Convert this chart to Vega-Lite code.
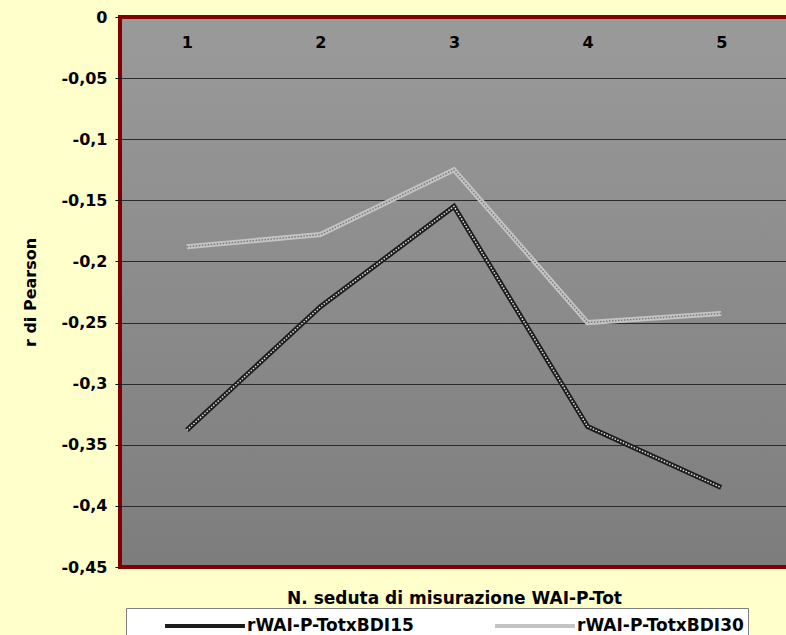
{
  "$schema": "https://vega.github.io/schema/vega-lite/v6.json",
  "width": 668,
  "height": 550,
  "autosize": "none",
  "padding": {"left": 120, "top": 17, "right": 0, "bottom": 68},
  "background": "#FFFFCC",
  "config": {
    "font": "DejaVu Sans",
    "view": {
      "stroke": "#800000",
      "strokeWidth": 4,
      "fill": {"gradient": "linear", "x1": 0, "y1": 0, "x2": 0, "y2": 1, "stops": [{"offset": 0, "color": "#9a9a9a"}, {"offset": 1, "color": "#7d7d7d"}]}
    }
  },
  "data": {
    "values": [
      {"seduta": "1", "series": "rWAI-P-TotxBDI15", "r": -0.338},
      {"seduta": "2", "series": "rWAI-P-TotxBDI15", "r": -0.237},
      {"seduta": "3", "series": "rWAI-P-TotxBDI15", "r": -0.155},
      {"seduta": "4", "series": "rWAI-P-TotxBDI15", "r": -0.335},
      {"seduta": "5", "series": "rWAI-P-TotxBDI15", "r": -0.385},
      {"seduta": "1", "series": "rWAI-P-TotxBDI30", "r": -0.188},
      {"seduta": "2", "series": "rWAI-P-TotxBDI30", "r": -0.178},
      {"seduta": "3", "series": "rWAI-P-TotxBDI30", "r": -0.125},
      {"seduta": "4", "series": "rWAI-P-TotxBDI30", "r": -0.250},
      {"seduta": "5", "series": "rWAI-P-TotxBDI30", "r": -0.2425}
    ]
  },
  "encoding": {
    "x": {
      "field": "seduta",
      "type": "ordinal",
      "axis": {
        "orient": "top",
        "labelAngle": 0,
        "domain": false,
        "ticks": false,
        "tickSize": 0,
        "labelPadding": -25,
        "labelBaseline": "middle",
        "labelFont": "DejaVu Sans",
        "labelFontSize": 16,
        "labelFontWeight": "bold",
        "labelColor": "black",
        "title": "N. seduta di misurazione WAI-P-Tot",
        "titleFont": "DejaVu Sans",
        "titleFontSize": 17,
        "titleFontWeight": "bold",
        "titleColor": "black",
        "titleY": 581,
        "titleBaseline": "middle"
      }
    },
    "y": {
      "field": "r",
      "type": "quantitative",
      "scale": {"domain": [-0.45, 0], "nice": false, "zero": false},
      "axis": {
        "values": [0, -0.05, -0.1, -0.15, -0.2, -0.25, -0.3, -0.35, -0.4, -0.45],
        "labelExpr": "replace(replace(format(datum.value, '.2~f'), '.', ','), '\u2212', '-')",
        "labelFont": "DejaVu Sans",
        "labelFontSize": 16,
        "labelFontWeight": "bold",
        "labelColor": "black",
        "labelPadding": 8,
        "tickSize": 5,
        "tickColor": "black",
        "domain": false,
        "grid": true,
        "gridColor": "#2a2a2a",
        "gridWidth": 1,
        "gridOpacity": 1,
        "title": "r di Pearson",
        "titleFont": "DejaVu Sans",
        "titleFontSize": 16,
        "titleFontWeight": "bold",
        "titleColor": "black",
        "titlePadding": 22
      }
    }
  },
  "layer": [
    {
      "mark": {"type": "line", "strokeWidth": 5, "strokeJoin": "miter"},
      "encoding": {
        "color": {
          "field": "series",
          "type": "nominal",
          "scale": {"domain": ["rWAI-P-TotxBDI15", "rWAI-P-TotxBDI30"], "range": ["#1c1c1c", "#c4c4c4"]},
          "legend": {
            "orient": "none",
            "legendX": 6,
            "legendY": 591,
            "direction": "horizontal",
            "title": null,
            "fillColor": "white",
            "strokeColor": "#808080",
            "padding": 4,
            "symbolType": "M-3.33,0H3.33",
            "symbolSize": 576,
            "symbolStrokeWidth": 4,
            "symbolOffset": 61,
            "labelFont": "DejaVu Sans",
            "labelFontSize": 17,
            "labelFontWeight": "bold",
            "labelColor": "black",
            "labelLimit": 300,
            "labelOffset": 28,
            "columnPadding": 46
          }
        }
      }
    },
    {
      "mark": {"type": "line", "strokeWidth": 1.5, "strokeDash": [1.5, 1.5], "strokeJoin": "miter"},
      "encoding": {
        "detail": {"field": "series", "type": "nominal"},
        "color": {
          "condition": {"test": "datum.series === 'rWAI-P-TotxBDI15'", "value": "#e6e6e6"},
          "value": "#7a7a7a"
        }
      }
    }
  ]
}
